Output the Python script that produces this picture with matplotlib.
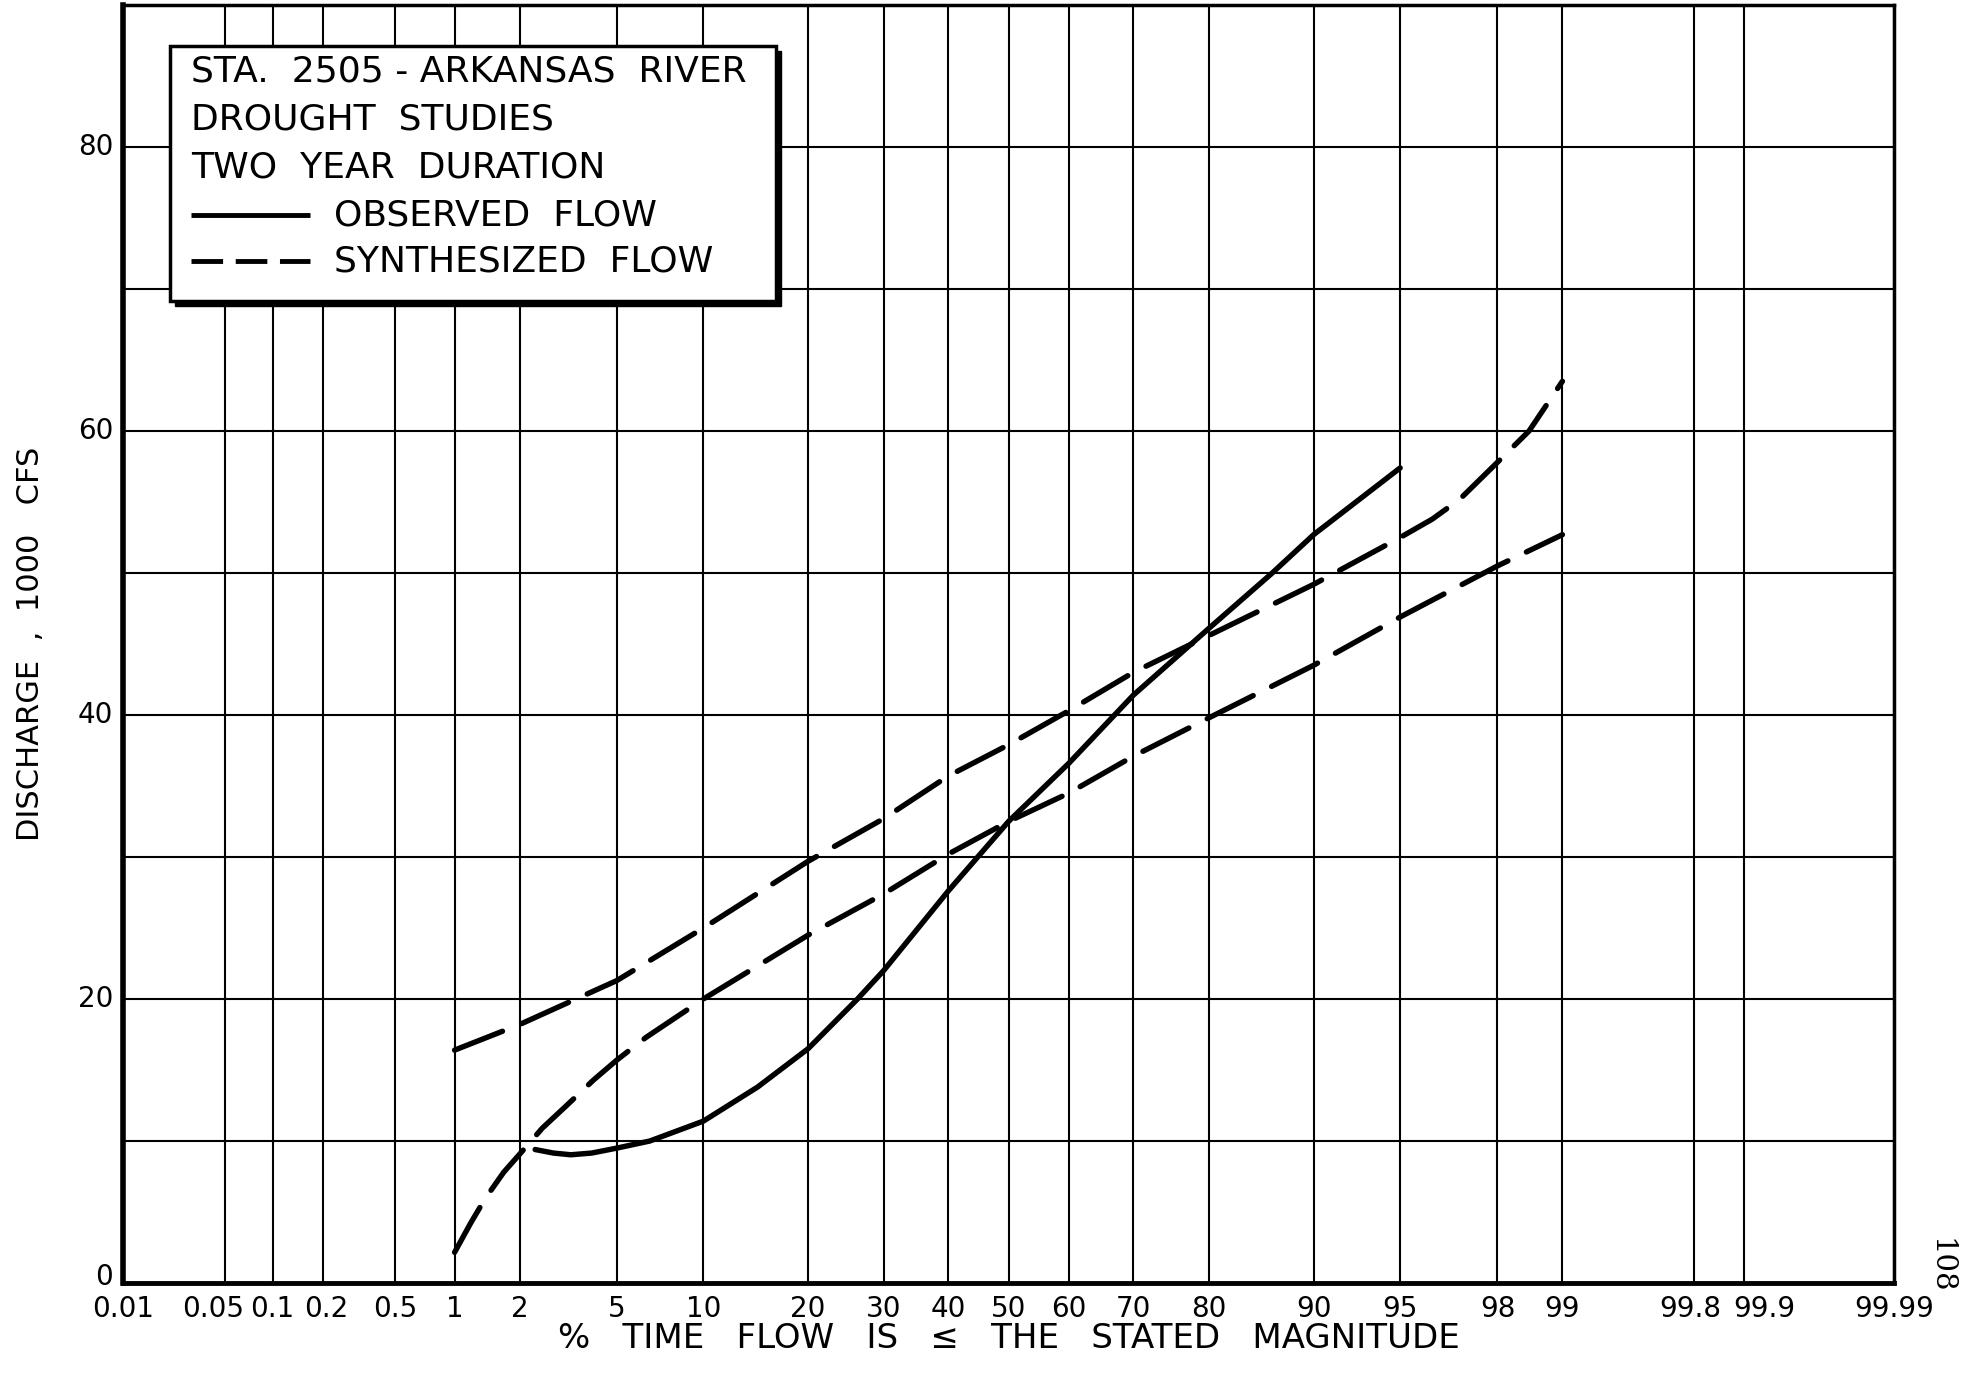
import numpy as np
import matplotlib
matplotlib.use("Agg")
import matplotlib.pyplot as plt
from matplotlib.patches import Rectangle
from matplotlib.lines import Line2D
from statistics import NormalDist

# ---- data -------------------------------------------------------------
prob_ticks = [0.01, 0.05, 0.1, 0.2, 0.5, 1, 2, 5, 10, 20, 30, 40, 50, 60,
              70, 80, 90, 95, 98, 99, 99.8, 99.9, 99.99]
prob_labels = ["0.01", "0.05", "0.1", "0.2", "0.5", "1", "2", "5", "10", "20",
               "30", "40", "50", "60", "70", "80", "90", "95", "98", "99",
               "99.8", "99.9", "99.99"]
y_grid = [0, 10, 20, 30, 40, 50, 60, 70, 80, 90]
y_ticks = [0, 20, 40, 60, 80]

# observed flow
obs_p = [2.34, 2.8, 3.3, 4.0, 5.0, 6.6, 10, 14.6, 20, 26.3, 30, 40, 50, 60,
         70, 80, 86.6, 90, 95]
obs_q = [9.4, 9.15, 9.03, 9.15, 9.5, 10.0, 11.4, 13.8, 16.5, 20.0, 22.0, 27.6,
         32.5, 36.6, 41.4, 46.1, 50.0, 52.7, 57.4]

# synthesized flow, upper trace
syn_a_p = [1, 2, 5, 10, 20, 30, 40, 50, 60, 70, 80, 90, 95, 96.25, 97.1, 98,
           98.56, 99]
syn_a_q = [16.4, 18.2, 21.3, 25.0, 29.7, 32.7, 35.7, 37.9, 40.3, 43.0, 45.6,
           49.2, 52.5, 53.8, 55.2, 57.8, 60.0, 63.5]

# synthesized flow, lower trace
syn_b_p = [1, 1.2, 1.4, 1.7, 2, 2.51, 3.2, 4.07, 5, 6.4, 10, 20, 30, 40,
           50, 60, 70, 80, 90, 95, 98, 99]
syn_b_q = [2.16, 4.27, 5.96, 7.8, 9.06, 10.9, 12.56, 14.3, 15.7, 17.3, 20.0,
           24.5, 27.4, 30.2, 32.5, 34.5, 37.1, 39.8, 43.5, 46.9, 50.5, 52.7]

# ---- normal probability scale -----------------------------------------
_nd = NormalDist()
_inv = np.vectorize(lambda v: _nd.inv_cdf(min(max(v / 100.0, 1e-9), 1 - 1e-9)),
                    otypes=[float])
_cdf = np.vectorize(lambda v: 100.0 * _nd.cdf(v), otypes=[float])


def prob_forward(p):
    return _inv(np.asarray(p, dtype=float))


def prob_inverse(zv):
    return _cdf(np.asarray(zv, dtype=float))


W, H = 1969, 1385
fig = plt.figure(figsize=(W / 100, H / 100), dpi=100)
fig.patch.set_facecolor("white")

L, R, T, B = 123, 1894, 5, 1283
ax = fig.add_axes([L / W, 1 - B / H, (R - L) / W, (B - T) / H])
ax.set_xscale("function", functions=(prob_forward, prob_inverse))
ax.set_xlim(0.01, 99.99)
ax.set_ylim(0, 90)

# grid
for p in prob_ticks:
    ax.axvline(p, color="black", lw=1.5, zorder=1)
for q in y_grid:
    ax.axhline(q, color="black", lw=1.5, zorder=1)

ax.set_xticks(prob_ticks)
ax.set_yticks(y_ticks)
ax.tick_params(axis="both", length=0, labelbottom=False, labelleft=False)
ax.minorticks_off()

for side, w in (("left", 4.0), ("bottom", 3.5), ("top", 2.5), ("right", 2.5)):
    ax.spines[side].set_linewidth(w)
    ax.spines[side].set_color("black")

# probability labels under the axis (a few shifted sideways where crowded)
label_nudge = {"0.05": -12, "0.2": 3, "99.8": -4, "99.9": 20}
for p, lab in zip(prob_ticks, prob_labels):
    ax.annotate(lab, xy=(p, 0), xycoords=("data", "axes fraction"),
                xytext=(label_nudge.get(lab, 0), -12), textcoords="offset pixels",
                ha="center", va="top", fontsize=20)

# discharge labels left of the axis
for v in y_ticks:
    ax.annotate(str(v), xy=(0, v), xycoords=("axes fraction", "data"),
                xytext=(-10, 6 if v == 0 else 0), textcoords="offset pixels",
                ha="right", va="center", fontsize=20)

# curves
ax.plot(obs_p, obs_q, color="black", lw=3.9, solid_capstyle="round",
        solid_joinstyle="round", zorder=3)
for sp, sq in ((syn_a_p, syn_a_q), (syn_b_p, syn_b_q)):
    ax.plot(sp, sq, color="black", lw=3.9, linestyle=(0, (9.5, 3.8)),
            dash_capstyle="round", dash_joinstyle="round", zorder=3)

ax.set_xlabel("%   TIME   FLOW   IS   ≤   THE   STATED   MAGNITUDE",
              fontsize=24.5, va="center")
ax.xaxis.set_label_coords(0.5, -(1339 - B) / (B - T))
ax.set_ylabel("DISCHARGE  ,  1000   CFS", fontsize=22, va="center")
ax.yaxis.set_label_coords(-(L - 31) / (R - L), 0.5)


# ---- title / key box --------------------------------------------------
def fx(px):
    return px / W


def fy(py):
    return 1 - py / H


bx0, by0, bx1, by1 = 170, 46, 776, 301
fig.add_artist(Rectangle((fx(bx0 + 5), fy(by1 + 5)), (bx1 - bx0) / W,
                         (by1 - by0) / H, transform=fig.transFigure,
                         facecolor="black", edgecolor="black", zorder=5))
fig.add_artist(Rectangle((fx(bx0), fy(by1)), (bx1 - bx0) / W,
                         (by1 - by0) / H, transform=fig.transFigure,
                         facecolor="white", edgecolor="black", lw=2.5, zorder=6))

key_lines = ["STA.  2505 - ARKANSAS  RIVER", "DROUGHT  STUDIES",
             "TWO  YEAR  DURATION "]
rows = [72, 119, 167, 215, 261]
for txt, ry in zip(key_lines, rows[:3]):
    fig.text(fx(191), fy(ry), txt, ha="left", va="center", fontsize=26,
             zorder=7)
fig.add_artist(Line2D([fx(191), fx(310)], [fy(rows[3]), fy(rows[3])],
                      transform=fig.transFigure, color="black", lw=3.5,
                      solid_capstyle="butt", zorder=7))
fig.add_artist(Line2D([fx(191), fx(310)], [fy(rows[4]), fy(rows[4])],
                      transform=fig.transFigure, color="black", lw=3.5,
                      linestyle=(0, (6.5, 2.6)), dash_capstyle="butt", zorder=7))
fig.text(fx(334), fy(rows[3]), "OBSERVED  FLOW", ha="left", va="center",
         fontsize=26, zorder=7)
fig.text(fx(334), fy(rows[4]), "SYNTHESIZED  FLOW", ha="left", va="center",
         fontsize=26, zorder=7)

# page number
fig.text(fx(1940), fy(1266), "108", rotation=-90, ha="center", va="center",
         fontsize=21, family="DejaVu Serif")

fig.savefig("out.png", dpi=100, facecolor="white")
